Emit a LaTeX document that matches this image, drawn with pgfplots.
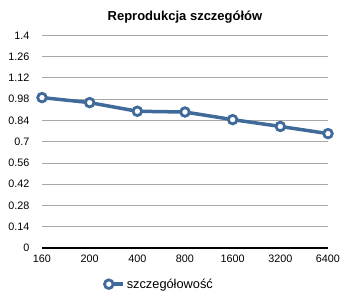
\documentclass[border=0pt]{standalone}
\usepackage{pgfplots}
\pgfplotsset{compat=1.18}
\usepackage{fontspec}
\setmainfont{Liberation Sans}
\definecolor{lineblue}{HTML}{3F6A99}
\definecolor{gridgray}{HTML}{A8A8A8}
\begin{document}
\begin{tikzpicture}[x=1pt,y=1pt]
\useasboundingbox (-42,-50) rectangle (308,248);
\begin{axis}[
  at={(0,0)}, anchor=south west,
  scale only axis, width=286pt, height=212.7pt,
  xmin=0, xmax=6, ymin=0, ymax=1.4,
  xtick={0,1,2,3,4,5,6},
  xticklabels={160,200,400,800,1600,3200,6400},
  ytick={0,0.14,0.28,0.42,0.56,0.7,0.84,0.98,1.12,1.26,1.4},
  yticklabels={0,0.14,0.28,0.42,0.56,0.7,0.84,0.98,1.12,1.26,1.4},
  axis x line*=bottom, axis y line*=left,
  x axis line style={black, line width=1.2pt, -},
  y axis line style={draw=none},
  ymajorgrids, grid style={gridgray, line width=0.8pt},
  major tick length=0pt,
  tick label style={font=\fontsize{10.8}{12}\selectfont},
  yticklabel style={anchor=east, xshift=-9pt},
  xticklabel style={yshift=-3pt},
  /pgf/number format/assume math mode=true,
  clip=false,
  title={\textbf{Reprodukcja szczegółów}},
  title style={font=\fontsize{13}{15}\selectfont, yshift=3pt},
  legend style={draw=none, fill=none, at={(0.41,-0.17)}, anchor=center,
    font=\fontsize{12.8}{15}\selectfont, legend cell align=left},
  legend image code/.code={\path (0,0) -- (0.62cm,0); \draw[#1] plot coordinates {(0.12cm,0cm)};},
]
\addplot[lineblue, line width=3.5pt, mark=*, mark size=4.3pt,
  mark options={fill=white, draw=lineblue, line width=2.8pt}]
  coordinates {(0,0.99) (1,0.957) (2,0.90) (3,0.895) (4,0.845) (5,0.80) (6,0.753)};
\addlegendentry{szczegółowość}
\end{axis}
\end{tikzpicture}
\end{document}
